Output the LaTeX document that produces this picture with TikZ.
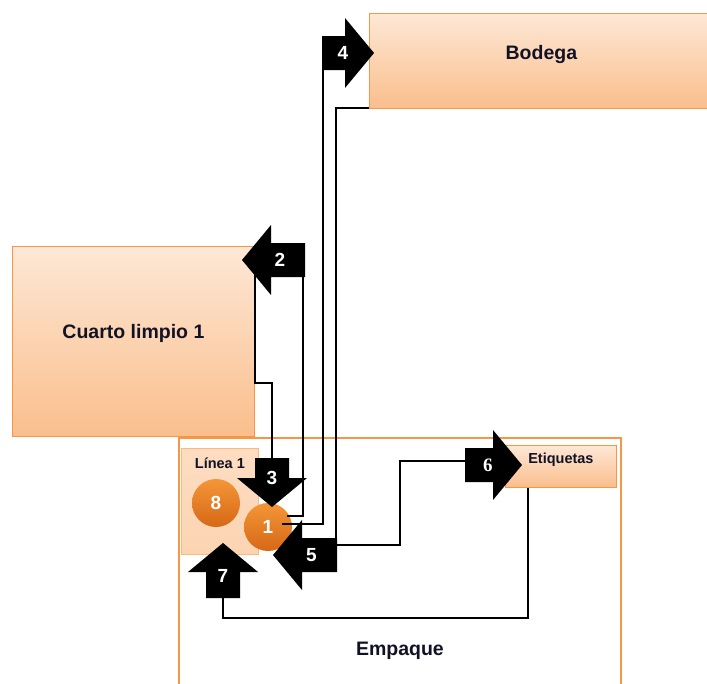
\documentclass[tikz,border=0pt]{standalone}
\usepackage{fontspec}
\setmainfont{Liberation Sans}
\newfontfamily\numserif{Liberation Serif}
\usepackage{xcolor}
\usetikzlibrary{calc,positioning}
\definecolor{cajaArriba}{RGB}{253,232,214}
\definecolor{cajaAbajo}{RGB}{250,190,140}
\definecolor{cajaBorde}{RGB}{247,150,70}
\definecolor{lineaFondo}{RGB}{252,212,178}
\definecolor{lineaBorde}{RGB}{250,185,125}
\definecolor{bolaArriba}{RGB}{244,150,56}
\definecolor{bolaAbajo}{RGB}{214,104,22}
\definecolor{textoOscuro}{RGB}{18,18,38}
\tikzset{
  caja/.style={draw=cajaBorde,line width=.8pt,top color=cajaArriba,bottom color=cajaAbajo,
    inner sep=0pt,anchor=north west,text=textoOscuro,font=\bfseries\fontsize{19.5}{22}\selectfont},
  chica/.style={caja,font=\bfseries\fontsize{14.5}{17}\selectfont},
  marco/.style={draw=cajaBorde,line width=1.8pt,fill=white,inner sep=0pt,anchor=north west,
    text=textoOscuro,font=\bfseries\fontsize{19.5}{22}\selectfont},
  bola/.style={circle,minimum size=48pt,inner sep=0pt,top color=bolaArriba,bottom color=bolaAbajo,
    text=white,font=\bfseries\fontsize{19}{22}\selectfont},
  numero/.style={text=white,inner sep=0pt,font=\bfseries\fontsize{19}{22}\selectfont},
  flujo/.style={black,line width=2.2pt,line join=miter}
}
\newcommand{\Flecha}[5]{%
  \begin{scope}[shift={(#2)},rotate=#3]
    \fill[black] (0,0) -- (-29,35) -- (-29,17) -- (-#4,17) -- (-#4,-17) -- (-29,-17) -- (-29,-35) -- cycle;
    \coordinate (#1-tip) at (0,0);
    \coordinate (#1-tail) at (-#4,0);
    \node[numero] (#1) at ({-0.6*#4},0) {#5};
  \end{scope}}
\begin{document}
\begin{tikzpicture}[x=1pt,y=-1pt]
  \useasboundingbox (0,0) rectangle (707,683);
  \clip (0,0) rectangle (707,683);
  \node[marco,minimum width=442pt,text height=218pt,text depth=45pt] (empaque) at (178,437) {Empaque};
  \node[caja,minimum width=344pt,text height=46pt,text depth=49pt] (bodega) at (369,13) {Bodega};
  \node[caja,minimum width=242pt,text height=92pt,text depth=98pt] (cuarto) at (12,246) {Cuarto limpio 1};
  \node[chica,minimum width=111pt,text height=18pt,text depth=24pt] (etiq) at (505,445) {Etiquetas};
  \node[chica,draw=lineaBorde,top color=lineaFondo!80!white,bottom color=lineaFondo,
    minimum width=77pt,text height=20pt,text depth=86pt] (linea) at (181,448) {Línea 1};
  \node[bola] (ocho) at (216,503) {8};
  \node[bola] (uno) at (268,527) {1};

  \Flecha{a2}{242,260}{180}{63}{2}
  \Flecha{a3}{272,507}{-90}{49}{3}
  \Flecha{a4}{374,53}{0}{52}{4}
  \Flecha{a5}{273,555}{180}{64}{5}
  \Flecha{a6}{522,465}{0}{57}{\numserif 6}
  \Flecha{a7}{223,543}{90}{55}{7}

  \draw[flujo] ([shift={(19,-11)}]uno.center) -| ([xshift=-2pt]a2-tail);
  \draw[flujo] ([xshift=13pt]a2-tip) -- ++(0,123) -| (a3-tail);
  \draw[flujo] ([shift={(14,-3)}]uno.center) -| ([xshift=1pt]a4-tail);
  \draw[flujo] ([yshift=1pt]bodega.south west) -| ([xshift=-1pt]a5-tail);
  \draw[flujo] ([yshift=10pt]a5-tail) -- ++(63,0) |- ([yshift=4pt]a6-tail);
  \draw[flujo] ([xshift=-33pt]etiq.south) -- ++(0,130) -| (a7-tail);
\end{tikzpicture}
\end{document}
